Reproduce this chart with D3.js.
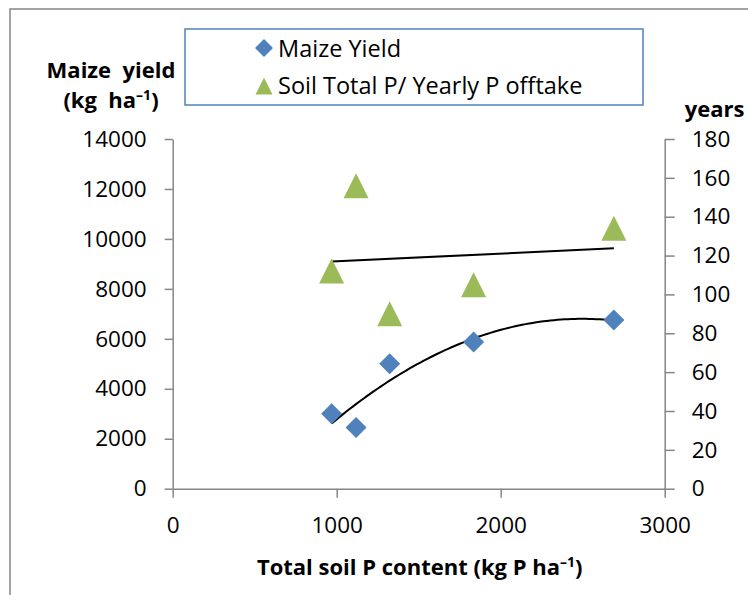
<!DOCTYPE html>
<html>
<head>
<meta charset="utf-8">
<script src="https://cdn.jsdelivr.net/npm/d3@7"></script>
<style>
  body { margin: 0; background: #fff; }
  text { font-family: "Open Sans", sans-serif; }
</style>
</head>
<body>
<div id="chart"></div>
<script>
// data
const soilP = [969, 1118, 1323, 1835, 2690];
const maizeYield = [3000, 2450, 5000, 5870, 6750];
const pYears = [112, 156, 90, 105, 134];
const xTicks = [0, 1000, 2000, 3000];
const yTicks = [0, 2000, 4000, 6000, 8000, 10000, 12000, 14000];
const y2Ticks = [0, 20, 40, 60, 80, 100, 120, 140, 160, 180];
const legendLabels = ['Maize Yield', 'Soil Total P/ Yearly P offtake'];

const W = 748, H = 595;
const plot = { left: 172.7, right: 664.7, top: 139, bottom: 488.7 };
const axisColor = '#868686';
const blue = '#4f81bd';
const green = '#9bbb59';
const fs = 22.5;

const svg = d3.select('#chart').append('svg')
  .attr('width', W)
  .attr('height', H);

// outer chart frame (runs off the right and bottom edges)
svg.append('rect')
  .attr('x', 10).attr('y', 9)
  .attr('width', 900).attr('height', 900)
  .attr('fill', 'none')
  .attr('stroke', axisColor)
  .attr('stroke-width', 1.5);

const x = d3.scaleLinear().domain([0, 3000]).range([plot.left, plot.right]);
const y = d3.scaleLinear().domain([0, 14000]).range([plot.bottom, plot.top]);
const y2 = d3.scaleLinear().domain([0, 180]).range([plot.bottom, plot.top]);

function styleAxis(g) {
  g.select('.domain').attr('stroke', axisColor).attr('stroke-width', 1.5);
  g.selectAll('.tick line').attr('stroke', axisColor).attr('stroke-width', 1.5);
  g.selectAll('.tick text')
    .attr('fill', '#000')
    .style('font-family', '"Open Sans", sans-serif')
    .style('font-size', fs + 'px');
}

svg.append('g')
  .attr('transform', `translate(0,${plot.bottom})`)
  .call(d3.axisBottom(x).tickValues(xTicks).tickFormat(d3.format('d'))
    .tickSize(9).tickSizeOuter(0).tickPadding(19))
  .call(styleAxis);

svg.append('g')
  .attr('transform', `translate(${plot.left},0)`)
  .call(d3.axisLeft(y).tickValues(yTicks).tickFormat(d3.format('d'))
    .tickSize(8).tickSizeOuter(0).tickPadding(18))
  .call(styleAxis);

svg.append('g')
  .attr('transform', `translate(${plot.right},0)`)
  .call(d3.axisRight(y2).tickValues(y2Ticks).tickFormat(d3.format('d'))
    .tickSize(10).tickSizeOuter(0).tickPadding(17))
  .call(styleAxis);

// trendlines
const pts = soilP.map((d, i) => ({ x: d, yld: maizeYield[i], yr: pYears[i] }));

// linear fit for years
const mx = d3.mean(pts, d => d.x);
const my = d3.mean(pts, d => d.yr);
const slope = d3.sum(pts, d => (d.x - mx) * (d.yr - my)) / d3.sum(pts, d => (d.x - mx) ** 2);
const lin = v => my + slope * (v - mx);

// quadratic fit for yield (least squares, centred)
const cx = d3.mean(pts, d => d.x) / 1000;
const us = pts.map(d => d.x / 1000 - cx);
const S = k => d3.sum(us, u => u ** k);
const T = k => d3.sum(pts, (d, i) => d.yld * us[i] ** k);
function solve3(A, b) {
  const M = A.map((r, i) => r.concat([b[i]]));
  for (let c = 0; c < 3; c++) {
    for (let r = c + 1; r < 3; r++) {
      const f = M[r][c] / M[c][c];
      for (let k = c; k < 4; k++) M[r][k] -= f * M[c][k];
    }
  }
  const s = [0, 0, 0];
  for (let r = 2; r >= 0; r--) {
    let v = M[r][3];
    for (let k = r + 1; k < 3; k++) v -= M[r][k] * s[k];
    s[r] = v / M[r][r];
  }
  return s;
}
const coef = solve3(
  [[S(0), S(1), S(2)], [S(1), S(2), S(3)], [S(2), S(3), S(4)]],
  [T(0), T(1), T(2)]
);
const quad = v => { const u = v / 1000 - cx; return coef[0] + coef[1] * u + coef[2] * u * u; };

const xs = d3.range(0, 81).map(i => d3.min(soilP) + (d3.max(soilP) - d3.min(soilP)) * i / 80);

svg.append('path')
  .datum(xs)
  .attr('fill', 'none')
  .attr('stroke', '#000')
  .attr('stroke-width', 2)
  .attr('d', d3.line().x(d => x(d)).y(d => y(quad(d))));

svg.append('path')
  .datum([d3.min(soilP), d3.max(soilP)])
  .attr('fill', 'none')
  .attr('stroke', '#000')
  .attr('stroke-width', 2)
  .attr('d', d3.line().x(d => x(d)).y(d => y2(lin(d))));

// markers
const diamond = (cx, cy, r) => `M${cx},${cy - r}L${cx + r},${cy}L${cx},${cy + r}L${cx - r},${cy}Z`;
const triangle = (cx, cy, r) => `M${cx},${cy - r}L${cx + r},${cy + r}L${cx - r},${cy + r}Z`;

svg.append('g').selectAll('path')
  .data(pts).enter().append('path')
  .attr('fill', blue)
  .attr('d', d => diamond(x(d.x), y(d.yld), 10.5));

svg.append('g').selectAll('path')
  .data(pts).enter().append('path')
  .attr('fill', green)
  .attr('d', d => triangle(x(d.x), y2(d.yr), 12.5));

// legend
svg.append('rect')
  .attr('x', 185).attr('y', 29)
  .attr('width', 458).attr('height', 76)
  .attr('fill', '#fff')
  .attr('stroke', blue)
  .attr('stroke-width', 1.5);
svg.append('path').attr('fill', blue).attr('d', diamond(264, 48, 9));
svg.append('path').attr('fill', green).attr('d', triangle(264, 86, 8.5));
svg.selectAll('.leg').data(legendLabels).enter().append('text')
  .attr('class', 'leg')
  .attr('x', 278)
  .attr('y', (d, i) => i ? 94.3 : 56.7)
  .style('font-size', '23.5px')
  .text(d => d);

// axis titles
function titleWithSup(tx, ty, before, after, anchor) {
  const t = svg.append('text')
    .attr('x', tx).attr('y', ty)
    .attr('text-anchor', anchor)
    .style('font-size', '22px')
    .style('font-weight', 'bold')
    .style('white-space', 'pre');
  t.append('tspan').text(before);
  t.append('tspan').attr('dy', -8).style('font-size', '14px').text('\u20131');
  t.append('tspan').attr('dy', 8).text(after);
  return t;
}

svg.append('text')
  .attr('x', 111).attr('y', 78)
  .attr('text-anchor', 'middle')
  .style('font-size', '22px')
  .style('font-weight', 'bold')
  .style('white-space', 'pre')
  .text('Maize  yield');
titleWithSup(111, 108, '(kg  ha', ')', 'middle');

svg.append('text')
  .attr('x', 714.5).attr('y', 116.7)
  .attr('text-anchor', 'middle')
  .style('font-size', '22px')
  .style('font-weight', 'bold')
  .text('years');

titleWithSup((plot.left + plot.right) / 2 + 1, 575, 'Total soil P content (kg P ha', ')', 'middle');
</script>
</body>
</html>
